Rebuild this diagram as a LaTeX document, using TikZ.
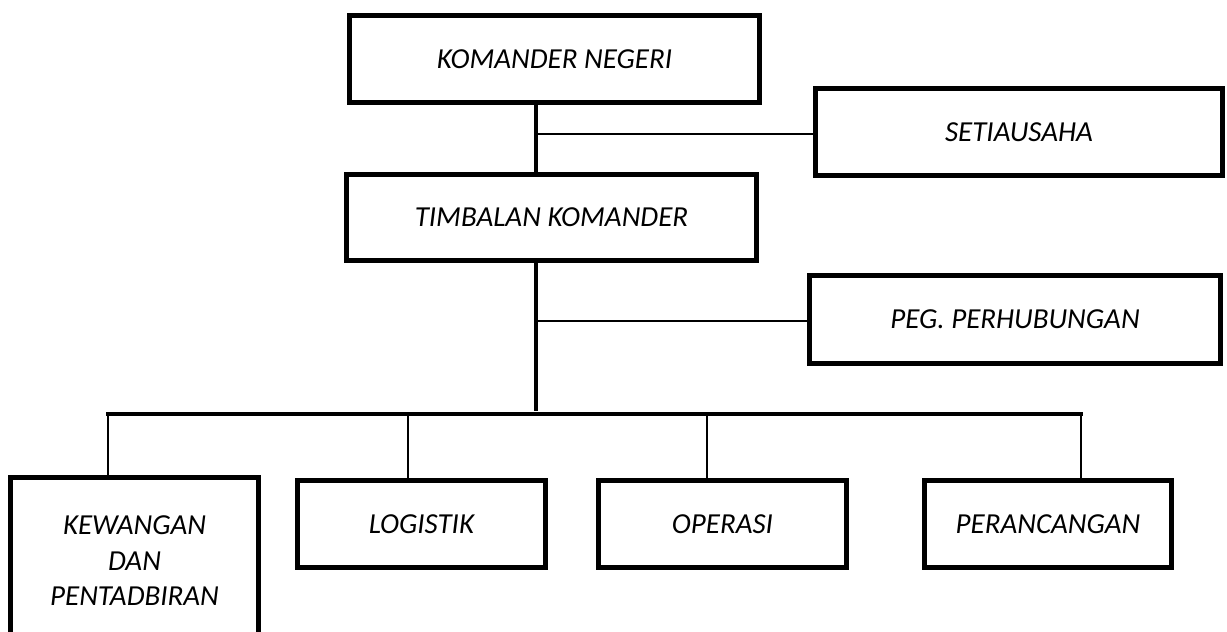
\documentclass[tikz,border=0pt]{standalone}
\usepackage{fontspec}
\setmainfont{Carlito}
\begin{document}
\begin{tikzpicture}[x=1pt,y=-1pt,
  unit/.style={draw=black,line width=4.7pt,fill=white,inner sep=0pt,
    align=center,font=\fontsize{29}{35.5}\selectfont\itshape},
  trunk/.style={line width=4pt},
  branch/.style={line width=1.7pt}]
\clip (0,0) rectangle (1227,632);
\fill[white] (0,0) rectangle (1227,632);

% top of the hierarchy
\node[unit,minimum width=410pt,minimum height=87pt] (kn) at (554.5,59) {KOMANDER NEGERI};
\node[unit,minimum width=407pt,minimum height=87pt] (sec) at (1019,132) {SETIAUSAHA};
\node[unit,minimum width=410pt,minimum height=86pt] (tim) at (551.5,217.5) {TIMBALAN KOMANDER};
\node[unit,minimum width=411pt,minimum height=88pt] (peg) at (1015,319.5) {PEG. PERHUBUNGAN};

% departments
\node[unit,minimum width=248pt,minimum height=167pt] (kew) at (134.5,561) {KEWANGAN\\DAN\\PENTADBIRAN};
\node[unit,minimum width=248pt,minimum height=87pt] (log) at (421.5,524) {LOGISTIK};
\node[unit,minimum width=248pt,minimum height=87pt] (ops) at (722.5,524) {OPERASI};
\node[unit,minimum width=247pt,minimum height=87pt] (per) at (1048,524) {PERANCANGAN};

% junction points
\coordinate (j1) at (536,134);
\coordinate (j2) at (536,321);
\coordinate (jb) at (536,411);
\coordinate (bl) at (106,414);
\coordinate (br) at (1083,414);

% main spine
\draw[trunk] (kn.south -| j1) -- (tim.north -| j1);
\draw[trunk] (tim.south -| j2) -- (jb);
\draw[branch] (j1) -- (j1 -| sec.west);
\draw[branch] (j2) -- (j2 -| peg.west);

% bus to the departments
\draw[trunk] (bl) -- (br);
\draw[branch] (bl -| 108,0) -- (108,0 |- kew.north);
\draw[branch] (bl -| 408,0) -- (408,0 |- log.north);
\draw[branch] (bl -| 707,0) -- (707,0 |- ops.north);
\draw[branch] (bl -| 1081,0) -- (1081,0 |- per.north);
\end{tikzpicture}
\end{document}
